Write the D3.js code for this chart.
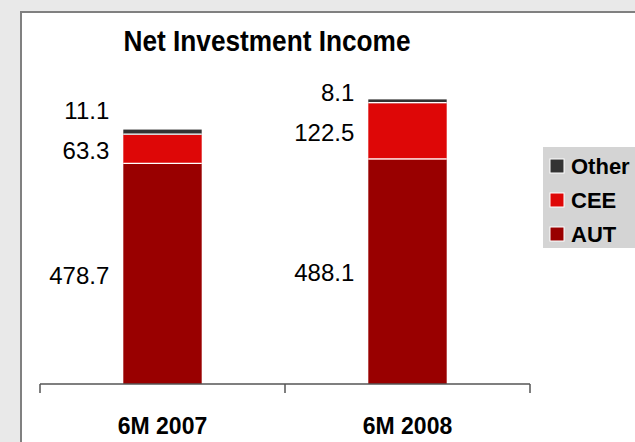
<!DOCTYPE html>
<html>
<head>
<meta charset="utf-8">
<script src="https://cdn.jsdelivr.net/npm/d3@7"></script>
<style>
  html, body { margin: 0; padding: 0; background: #e9e9e9; }
  svg { display: block; }
  text { font-family: "Liberation Sans", Arial, sans-serif; }
</style>
</head>
<body>
<script>
// Net investment income by region, in EUR m
const periods = ["6M 2007", "6M 2008"];
const seriesNames = ["AUT", "CEE", "Other"];
const autValues = [478.7, 488.1];
const ceeValues = [63.3, 122.5];
const otherValues = [11.1, 8.1];
const seriesColors = ["#990000", "#de0707", "#333333"];
const chartTitle = "Net Investment Income";

const W = 635, H = 442;
const svg = d3.select("body").append("svg")
  .attr("width", W).attr("height", H);

// page background and framed white panel
svg.append("rect").attr("width", W).attr("height", H).attr("fill", "#e9e9e9");
svg.append("rect")
  .attr("x", 21).attr("y", 12)
  .attr("width", W + 10).attr("height", H + 10)
  .attr("fill", "#ffffff")
  .attr("stroke", "#808080").attr("stroke-width", 2);

// scales
const x = d3.scaleBand()
  .domain(periods)
  .range([40, 530])
  .paddingInner(0.68)
  .paddingOuter(0.34);
const y = d3.scaleLinear().domain([0, 700]).range([384, 62]);

// stacked rows: one per period
const rows = periods.map((p, i) => ({
  period: p, AUT: autValues[i], CEE: ceeValues[i], Other: otherValues[i]
}));
const stacked = d3.stack().keys(seriesNames)(rows);

const layers = svg.append("g").selectAll("g")
  .data(stacked).join("g")
  .attr("fill", (d, i) => seriesColors[i]);

layers.selectAll("rect")
  .data(d => d.map(s => ({ s, period: s.data.period })))
  .join("rect")
  .attr("x", d => x(d.period))
  .attr("width", x.bandwidth())
  .attr("y", d => y(d.s[1]))
  .attr("height", d => y(d.s[0]) - y(d.s[1]));

// thin white separators between stacked segments
stacked.slice(1).forEach(layer => {
  svg.append("g").selectAll("line")
    .data(layer).join("line")
    .attr("x1", d => x(d.data.period))
    .attr("x2", d => x(d.data.period) + x.bandwidth())
    .attr("y1", d => y(d[0]) - 0.5)
    .attr("y2", d => y(d[0]) - 0.5)
    .attr("stroke", "#ffffff").attr("stroke-width", 1.2);
});

// value labels to the left of each bar
const labelGroup = svg.append("g")
  .attr("font-size", 24).attr("fill", "#000").attr("text-anchor", "end");
stacked.forEach((layer, li) => {
  layer.forEach(d => {
    const mid = (y(d[0]) + y(d[1])) / 2;
    let cy = mid + 1;
    if (seriesNames[li] === "Other") {
      // sits one line above the CEE label
      const cee = stacked[1].find(c => c.data.period === d.data.period);
      cy = (y(cee[0]) + y(cee[1])) / 2 - 39;
    }
    labelGroup.append("text")
      .attr("x", x(d.data.period) - 14)
      .attr("y", cy)
      .attr("dy", "0.36em")
      .text(d.data[seriesNames[li]].toFixed(1));
  });
});

// category axis with ticks at band boundaries
const axisG = svg.append("g").attr("stroke", "#555555").attr("stroke-width", 1.5);
axisG.append("line").attr("x1", 40).attr("x2", 530).attr("y1", 384).attr("y2", 384);
const boundaries = [x.range()[0]].concat(periods.map(p => x(p) + x.bandwidth() / 2 + x.step() / 2));
axisG.selectAll("line.tick")
  .data(boundaries).join("line").attr("class", "tick")
  .attr("x1", d => d).attr("x2", d => d)
  .attr("y1", 384).attr("y2", 393);

svg.append("g").selectAll("text")
  .data(periods).join("text")
  .attr("x", d => x(d) + x.bandwidth() / 2)
  .attr("y", 426)
  .attr("dy", "0.36em")
  .attr("text-anchor", "middle")
  .attr("font-weight", "bold")
  .attr("font-size", 23)
  .text(d => d);

// title
svg.append("text")
  .attr("x", 267).attr("y", 51)
  .attr("text-anchor", "middle")
  .attr("font-weight", "bold")
  .attr("font-size", 30)
  .attr("textLength", 287)
  .attr("lengthAdjust", "spacingAndGlyphs")
  .text(chartTitle);

// legend, listed top-down in reverse stack order
const legend = svg.append("g");
legend.append("rect")
  .attr("x", 543).attr("y", 147).attr("width", 100).attr("height", 101)
  .attr("fill", "#d4d4d4");
const legendItems = seriesNames.slice().reverse();
const legendRows = legend.selectAll("g.item")
  .data(legendItems).join("g").attr("class", "item")
  .attr("transform", (d, i) => `translate(550, ${166 + i * 34})`);
legendRows.append("rect")
  .attr("x", 0).attr("y", -7).attr("width", 14).attr("height", 14)
  .attr("fill", d => seriesColors[seriesNames.indexOf(d)])
  .attr("stroke", "#ffffff").attr("stroke-width", 1);
legendRows.append("text")
  .attr("x", 21).attr("y", 0).attr("dy", "0.36em")
  .attr("font-weight", "bold").attr("font-size", 22)
  .text(d => d);
</script>
</body>
</html>
